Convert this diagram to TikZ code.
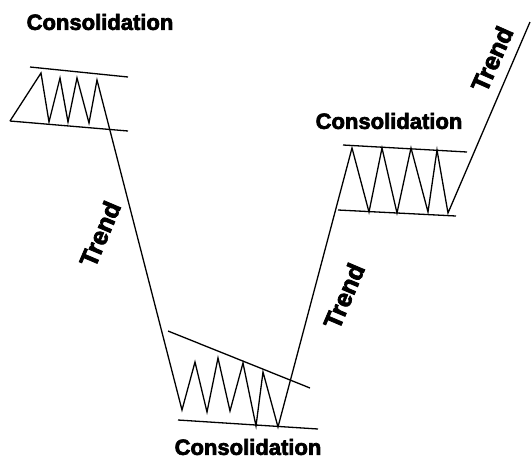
\documentclass[tikz,border=0pt]{standalone}
\usepackage{fontspec}
\newfontfamily\lblfont{Liberation Sans Bold}[FakeBold=3]
\tikzset{
  ln/.style={line width=1.3pt, line join=miter, black},
  lbl/.style={font=\lblfont\fontsize{22}{24}\selectfont, inner sep=0pt, text=black},
  trendlbl/.style={font=\lblfont\fontsize{25}{27}\selectfont, inner sep=0pt, text=black},
}
\begin{document}
\begin{tikzpicture}[x=1pt,y=-1pt]
\useasboundingbox[fill=white] (0,0) rectangle (531,459);
% boundary lines of consolidations
\draw[ln] (30,67) -- (128,77);
\draw[ln] (10,121) -- (128,131);
\draw[ln] (168,331) -- (310,388);
\draw[ln] (178,420) -- (318,429);
\draw[ln] (343,145) -- (467,152);
\draw[ln] (338,210) -- (456,216);
% price path
\draw[ln] (10,121) -- (41,73) -- (49,122) -- (60,78) -- (68,122) -- (77,78) -- (89,123) -- (97,80)
  -- (182,410) -- (195,362) -- (207,412) -- (218,358) -- (230,411) -- (243,363) -- (256,426) -- (263,372) -- (278,427)
  -- (352,148) -- (369,212) -- (382,148) -- (397,213) -- (411,148) -- (428,212) -- (437,150) -- (448,213)
  -- (530,22);
% labels
\node[lbl] (c1) at (100,22) {Consolidation};
\node[lbl] (c2) at (389,121) {Consolidation};
\node[lbl] (c3) at (248,447) {Consolidation};
\node[trendlbl, rotate=67] (t1) at (100,234) {Trend};
\node[trendlbl, rotate=67] (t2) at (344,296) {Trend};
\node[trendlbl, rotate=66] (t3) at (492,59) {Trend};
\end{tikzpicture}
\end{document}
